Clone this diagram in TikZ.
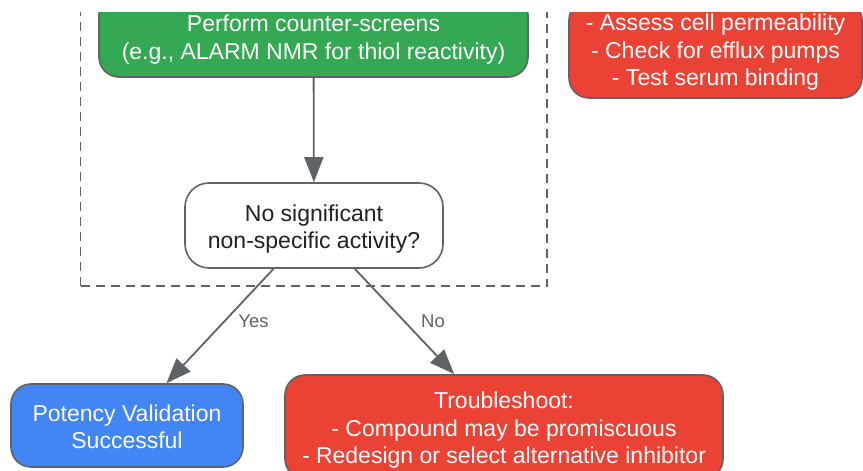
\documentclass[tikz,border=0pt]{standalone}
\usepackage{fontspec}
\setmainfont{Liberation Sans}
\usetikzlibrary{arrows.meta}
\definecolor{boxgreen}{HTML}{34A853}
\definecolor{boxred}{HTML}{EA4335}
\definecolor{boxblue}{HTML}{4285F4}
\definecolor{edgegray}{HTML}{5F6368}
\definecolor{inkgray}{HTML}{202124}
\newcommand{\lineup}{\rule{0pt}{18.5pt}}

\begin{document}
\begin{tikzpicture}[x=1pt, y=-1pt,
  box/.style={draw=edgegray, line width=1.6pt, rounded corners=20pt, align=center, inner sep=0pt, text depth=0pt, font=\fontsize{23}{27.5}\selectfont},
  fillbox/.style={box, text=white},
  askbox/.style={box, fill=white, text=inkgray, rounded corners=24pt},
  flow/.style={draw=edgegray, line width=1.8pt, -{Triangle[length=25pt, width=19pt]}},
  frame/.style={draw=edgegray, line width=1.8pt, dash pattern=on 9pt off 6pt},
  tag/.style={text=edgegray, font=\fontsize{18.5}{22}\selectfont}]
\useasboundingbox (0,0) rectangle (863,471);
\clip (0,12) rectangle (863,471);
\draw[frame] (80.5,286) -- (80.5,-30); %group frame, left side
\draw[frame] (80.5,286) -- (547,286) -- (547,-30); %bottom and right side
\node[fillbox, fill=boxgreen, minimum width=429pt, minimum height=82pt] (screen) at (313.5,36) {\lineup Perform counter-screens\\(e.g., ALARM NMR for thiol reactivity)};
\node[fillbox, fill=boxred, minimum width=293pt, minimum height=98pt] (cellfix) at (715.5,49) {\lineup - Assess cell permeability\\- Check for efflux pumps\\- Test serum binding};
\node[askbox, minimum width=258pt, minimum height=85pt] (check) at (314,225.5) {\lineup No significant\\non-specific activity?};
\node[fillbox, fill=boxblue, minimum width=232pt, minimum height=83pt] (pass) at (127,425.5) {\lineup Potency Validation\\Successful};
\node[fillbox, fill=boxred, minimum width=438pt, minimum height=104pt] (trouble) at (504,427) {\lineup Troubleshoot:\\- Compound may be promiscuous\\- Redesign or select alternative inhibitor};
%edges
\draw[flow] (screen) -- (check);
\draw[flow] (check) -- (pass);
\draw[flow] (check) -- (trouble);
\node[tag] (yes) at (253.5,321.5) {Yes};
\node[tag] (no) at (433,321) {No};
\end{tikzpicture}
\end{document}
